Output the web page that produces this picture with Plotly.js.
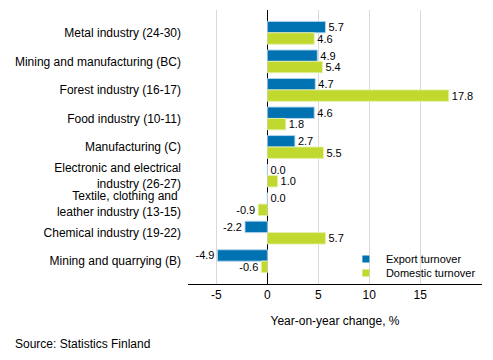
<!DOCTYPE html>
<html>
<head>
<meta charset="utf-8">
<script src="https://cdn.plot.ly/plotly-3.0.1.min.js"></script>
<style>html,body{margin:0;padding:0;background:#fff}#chart{width:493px;height:360px}</style>
</head>
<body>
<div id="chart"></div>
<script>
var categories = [
  "Metal industry (24-30)",
  "Mining and manufacturing (BC)",
  "Forest industry (16-17)",
  "Food industry (10-11)",
  "Manufacturing (C)",
  "Electronic and electrical<br>industry (26-27)",
  "Textile, clothing and <br>leather industry (13-15)",
  "Chemical industry (19-22)",
  "Mining and quarrying (B)"
];
var exportTurnover = [5.7, 4.9, 4.7, 4.6, 2.7, 0.0, 0.0, -2.2, -4.9];
var domesticTurnover = [4.6, 5.4, 17.8, 1.8, 5.5, 1.0, -0.9, 5.7, -0.6];
var seriesNames = ["Export turnover", "Domestic turnover"];
var seriesColors = ["#0072b2", "#c1d82f"];
var tickVals = [-5, 0, 5, 10, 15];

var fontFam = "Liberation Sans, Arial, sans-serif";
function lbl(v){ return v.map(function(x){ return x.toFixed(1); }); }

var traces = [
  {type:'bar', orientation:'h', name:seriesNames[0], y:categories, x:exportTurnover,
   marker:{color:seriesColors[0], line:{color:'rgba(180,215,240,0.9)', width:1}},
   text:lbl(exportTurnover), textposition:'outside', cliponaxis:false, constraintext:'none',
   textfont:{family:fontFam, size:11, color:'#000'}, showlegend:false},
  {type:'bar', orientation:'h', name:seriesNames[1], y:categories, x:domesticTurnover,
   marker:{color:seriesColors[1], line:{color:'rgba(230,240,170,0.9)', width:1}},
   text:lbl(domesticTurnover), textposition:'outside', cliponaxis:false, constraintext:'none',
   textfont:{family:fontFam, size:11, color:'#000'}, showlegend:false},
  {type:'scatter', mode:'markers', name:seriesNames[0], x:[null], y:[null], legend:'legend',
   marker:{symbol:'square', size:7, color:seriesColors[0]}, showlegend:true},
  {type:'scatter', mode:'markers', name:seriesNames[1], x:[null], y:[null], legend:'legend2',
   marker:{symbol:'square', size:7, color:seriesColors[1]}, showlegend:true}
];

var legBase = {xanchor:'left', yanchor:'middle', bgcolor:'rgba(0,0,0,0)',
  font:{family:fontFam, size:11, color:'#000'}, itemwidth:30};

var layout = {
  width:493, height:360,
  margin:{l:188, r:11, t:10, b:76, autoexpand:false},
  paper_bgcolor:'#fff', plot_bgcolor:'#fff',
  font:{family:fontFam, size:12, color:'#000'},
  barmode:'group', bargap:0.2, bargroupgap:0,
  showlegend:true,
  legend:Object.assign({}, legBase, {x:0.537, y:25/274}),
  legend2:Object.assign({}, legBase, {x:0.537, y:11/274}),
  xaxis:{range:[-7.79, 21.06], tickvals:tickVals, ticktext:tickVals.map(String),
         showgrid:true, gridcolor:'#d9d9d9', gridwidth:1,
         zeroline:true, zerolinecolor:'#000', zerolinewidth:1,
         showline:true, linecolor:'#000', linewidth:1, ticks:'', automargin:false,
         tickfont:{family:fontFam, size:12, color:'#000'},
         title:{text:'Year-on-year change, %', standoff:15, font:{family:fontFam, size:12, color:'#000'}},
         fixedrange:true},
  yaxis:{type:'category', categoryorder:'array', categoryarray:categories,
         range:[8.8, -0.8], showgrid:false, zeroline:false, showline:false, ticks:'', automargin:false,
         ticklabelstandoff:6,
         tickfont:{family:fontFam, size:12, color:'#000'}, fixedrange:true},
  annotations:[{text:'Source: Statistics Finland', xref:'paper', yref:'paper',
                x:-175/294, y:-60/274, xanchor:'left', yanchor:'middle', showarrow:false,
                font:{family:fontFam, size:12, color:'#000'}}]
};

Plotly.newPlot('chart', traces, layout, {displayModeBar:false, staticPlot:true});
</script>
</body>
</html>
